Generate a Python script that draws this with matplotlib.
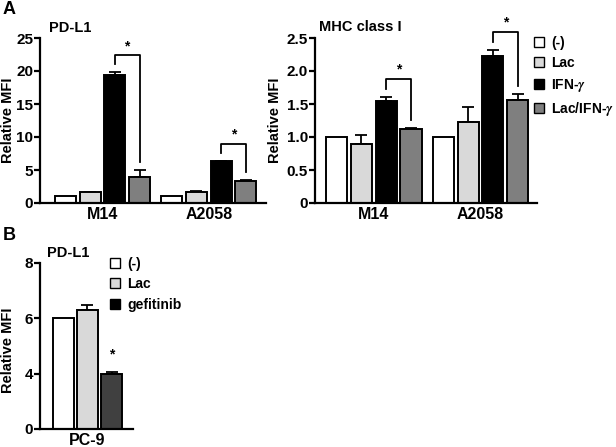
import matplotlib
matplotlib.use('Agg')
import matplotlib.pyplot as plt
import numpy as np

plt.rcParams['font.family'] = ['Liberation Sans', 'DejaVu Sans']
plt.rcParams['font.weight'] = 'bold'
plt.rcParams['mathtext.fontset'] = 'stix'

# panel A data
cells_a = ['M14', 'A2058']
treat_a = ['(-)', 'Lac', r'IFN-$\gamma$', r'Lac/IFN-$\gamma$']
colors_a = ['white', '#d9d9d9', 'black', '#7f7f7f']

pdl1_mean = [[1.0, 1.65, 19.4, 4.0],
             [1.0, 1.7, 6.35, 3.3]]
pdl1_err = [[0.0, 0.05, 0.45, 1.0],
            [0.0, 0.05, 0.05, 0.15]]

mhc_mean = [[1.0, 0.9, 1.54, 1.12],
            [1.0, 1.22, 2.22, 1.56]]
mhc_err = [[0.0, 0.13, 0.06, 0.015],
           [0.0, 0.23, 0.1, 0.09]]

# panel B data
cells_b = ['PC-9']
treat_b = ['(-)', 'Lac', 'gefitinib']
colors_b = ['white', '#d9d9d9', '#404040']
legend_b = ['white', '#d9d9d9', 'black']
pc9_mean = [6.0, 6.3, 4.0]
pc9_err = [0.0, 0.17, 0.05]

W, H = 616, 447
fig = plt.figure(figsize=(W / 100, H / 100), dpi=100)


def px_axes(x0, y0, x1, y1):
    return fig.add_axes([x0 / W, 1 - y1 / H, (x1 - x0) / W, (y1 - y0) / H])


def style(ax, xlab, ymid):
    for s in ['top', 'right']:
        ax.spines[s].set_visible(False)
    for s in ['left', 'bottom']:
        ax.spines[s].set_linewidth(1.6)
    ax.tick_params(axis='y', width=1.6, length=4, labelsize=11, pad=1)
    ax.tick_params(axis='x', length=0, labelsize=11.5, pad=3)
    for lab in ax.get_yticklabels() + ax.get_xticklabels():
        lab.set_fontweight('bold')
    fig.text(xlab / W, 1 - ymid / H, 'Relative MFI', rotation=90, ha='center',
             va='center', fontsize=10.5, fontweight='bold')


def bracket(ax, x1, x2, y1, y2, ytop, ymax):
    ax.plot([x1, x1, x2, x2], [y1, ytop, ytop, y2], color='black', lw=1.3,
            clip_on=False)
    ax.text((x1 + x2) / 2, ytop + ymax * 0.015, '*', ha='center', va='bottom',
            fontsize=10, clip_on=False)


def group_plot(ax, means, errs, ymax, gap=4.3, pairs_off=0.05, top_off=0.1):
    centers = np.arange(len(cells_a)) * gap
    for g, c in enumerate(centers):
        xs = c + np.arange(4) - 1.5
        ax.bar(xs, means[g], width=0.85, color=colors_a, edgecolor='black',
               linewidth=1.4, zorder=2)
        for x, m, e in zip(xs, means[g], errs[g]):
            if e > 0:
                ax.errorbar(x, m, yerr=[[0], [e]], color='black', lw=1.3,
                            capsize=4, capthick=1.3, zorder=1)
        top_l = means[g][2] + errs[g][2]
        top_r = means[g][3] + errs[g][3]
        ytop = max(top_l, top_r) + ymax * top_off
        bracket(ax, xs[2], xs[3], top_l + ymax * pairs_off,
                top_r + ymax * pairs_off, ytop, ymax)
    ax.set_xticks(centers)
    ax.set_xticklabels(cells_a)
    ax.set_ylim(0, ymax)


ax1 = px_axes(40, 38, 266, 203)
group_plot(ax1, pdl1_mean, pdl1_err, 25)
ax1.set_yticks([0, 5, 10, 15, 20, 25])
ax1.set_xlim(-2.53, 6.62)
style(ax1, 8, 120)

ax2 = px_axes(315, 38, 537, 203)
group_plot(ax2, mhc_mean, mhc_err, 2.5, top_off=0.11)
ax2.set_yticks([0, 0.5, 1.0, 1.5, 2.0, 2.5])
ax2.set_yticklabels(['0', '0.5', '1.0', '1.5', '2.0', '2.5'])
ax2.set_xlim(-2.37, 6.58)
style(ax2, 275, 120)

handles = [plt.Rectangle((0, 0), 1, 1, facecolor=c, edgecolor='black', lw=1.0)
           for c in colors_a]
fig.legend(handles, treat_a, loc='upper left', bbox_to_anchor=(534 / W, 1 - 36 / H),
           frameon=False, handlelength=0.75, handleheight=0.75,
           handletextpad=0.5, labelspacing=0.45, borderpad=0, borderaxespad=0,
           prop={'weight': 'bold', 'size': 10})


# panel B with compressed 0-4 segment
def fwd(v):
    v = np.asarray(v, dtype=float)
    return np.where(v <= 4, v / 4, 1 + (v - 4) / 2)


def inv(u):
    u = np.asarray(u, dtype=float)
    return np.where(u <= 1, u * 4, 4 + (u - 1) * 2)


ax3 = px_axes(40, 263, 133, 429)
xs = np.arange(len(treat_b)) - 1.0
ax3.set_yscale('function', functions=(fwd, inv))
ax3.bar(xs, pc9_mean, width=0.86, color=colors_b, edgecolor='black',
        linewidth=1.4, zorder=2)
for x, m, e in zip(xs, pc9_mean, pc9_err):
    if e > 0:
        ax3.errorbar(x, m, yerr=[[0], [e]], color='black', lw=1.3,
                     capsize=4, capthick=1.3, zorder=1)
ax3.text(xs[2], pc9_mean[2] + 0.45, '*', ha='center', va='bottom', fontsize=10)
ax3.set_ylim(0, 8)
ax3.set_yticks([0, 4, 6, 8])
ax3.set_yticklabels(['0', '4', '6', '8'])
ax3.set_xticks([0])
ax3.set_xticklabels(cells_b)
ax3.set_xlim(-1.95, 1.87)
style(ax3, 8, 350)

handles_b = [plt.Rectangle((0, 0), 1, 1, facecolor=c, edgecolor='black', lw=1.0)
             for c in legend_b]
fig.legend(handles_b, treat_b, loc='upper left', bbox_to_anchor=(110 / W, 1 - 257 / H),
           frameon=False, handlelength=0.75, handleheight=0.75,
           handletextpad=0.5, labelspacing=0.45, borderpad=0, borderaxespad=0,
           prop={'weight': 'bold', 'size': 10})

# titles and panel letters
fig.text(49 / W, 1 - 28 / H, 'PD-L1', fontsize=10.5, fontweight='bold', va='center')
fig.text(319 / W, 1 - 27 / H, 'MHC class I', fontsize=10.5, fontweight='bold', va='center')
fig.text(47 / W, 1 - 253 / H, 'PD-L1', fontsize=10.5, fontweight='bold', va='center')
fig.text(3 / W, 1 - 9 / H, 'A', fontsize=13, fontweight='bold', va='center')
fig.text(3 / W, 1 - 235 / H, 'B', fontsize=13, fontweight='bold', va='center')

fig.savefig('out.png', dpi=100)
